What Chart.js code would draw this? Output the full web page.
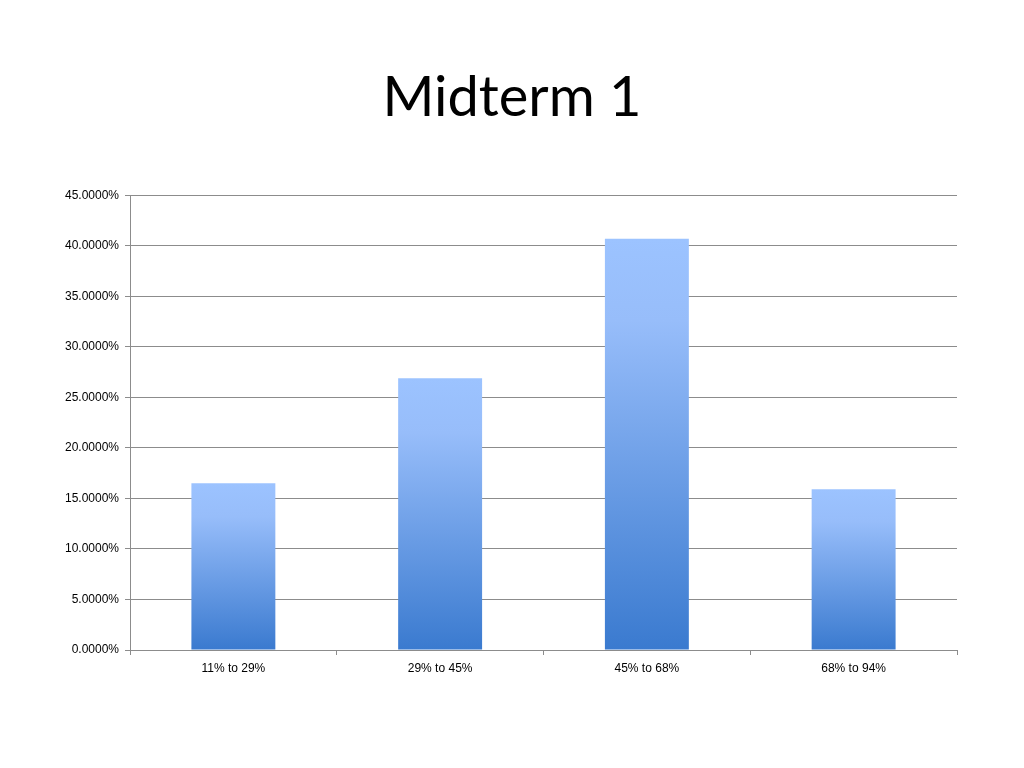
<!DOCTYPE html>
<html>
<head>
<meta charset="utf-8">
<script src="https://cdn.jsdelivr.net/npm/chart.js@4/dist/chart.umd.min.js"></script>
<style>
  html, body { margin: 0; padding: 0; background: #fff; }
  #wrap { width: 1024px; height: 768px; }
</style>
</head>
<body>
<div id="wrap"><canvas id="myChart" width="1024" height="768"></canvas></div>
<script>
const categories = ['11% to 29%', '29% to 45%', '45% to 68%', '68% to 94%'];
const percentages = [16.5, 26.9, 40.7, 15.9];
const yTicks = [0, 5, 10, 15, 20, 25, 30, 35, 40, 45];

// light-to-dark gradient over each bar's own height
function barGradient(context) {
    const chart = context.chart;
    if (!chart.chartArea || context.type !== 'data') return '#6a9de6';
    const y = chart.scales.y;
    const top = y.getPixelForValue(context.raw);
    const bottom = y.getPixelForValue(0);
    const g = chart.ctx.createLinearGradient(0, top, 0, bottom);
    g.addColorStop(0, '#9cc3ff');
    g.addColorStop(0.2, '#97bdfa');
    g.addColorStop(1, '#3a7acf');
    return g;
}

var ctx = document.getElementById('myChart').getContext('2d');

let myChart = new Chart(ctx, {
    type: 'bar',
    data: {
        labels: categories,
        datasets: [
            {
                label: 'Midterm 1',
                data: percentages,
                backgroundColor: barGradient,
                borderWidth: 0,
                barPercentage: 0.406,
                categoryPercentage: 1,
            },
        ],
    },
    options: {
        responsive: false,
        animation: false,
        layout: {
            padding: { left: 30, right: 30, top: 0, bottom: 88 },
        },
        plugins: {
            legend: { display: false },
            tooltip: { enabled: false },
            title: {
                display: true,
                text: 'Midterm 1',
                color: '#000',
                font: { family: 'Lato', size: 56, weight: 'normal' },
                padding: { top: 64, bottom: 64 },
            },
        },
        scales: {
            y: {
                min: 0,
                max: 45,
                afterBuildTicks: (scale) => {
                    scale.ticks = yTicks.map((v) => ({ value: v }));
                },
                afterFit: (scale) => {
                    scale.width = 100;
                },
                ticks: {
                    color: '#000',
                    font: { family: 'Liberation Sans', size: 12 },
                    padding: 6,
                    callback: (v) => v.toFixed(4) + '%',
                },
                grid: {
                    color: '#8c8c8c',
                    lineWidth: 1,
                    tickLength: 5,
                },
                border: { color: '#8c8c8c' },
            },
            // empty right-hand spacer so the plot ends where the reference does
            spacer: {
                type: 'linear',
                position: 'right',
                afterFit: (scale) => {
                    scale.width = 37;
                },
                ticks: { display: false },
                grid: { display: false, drawTicks: false },
                border: { display: false },
            },
            x: {
                afterFit: (scale) => {
                    scale.height = 30;
                },
                ticks: {
                    color: '#000',
                    font: { family: 'Liberation Sans', size: 12 },
                    padding: 6,
                },
                grid: {
                    drawOnChartArea: false,
                    color: '#8c8c8c',
                    tickLength: 5,
                },
                border: { color: '#8c8c8c' },
            },
        },
    },
});
</script>
</body>
</html>
